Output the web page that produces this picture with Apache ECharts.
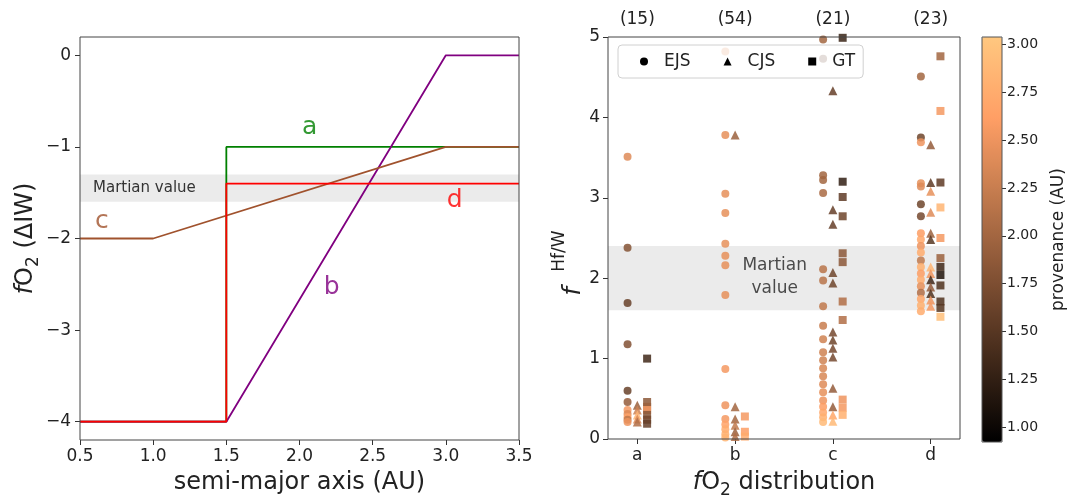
<!DOCTYPE html>
<html>
<head>
<meta charset="utf-8">
<script src="https://cdn.jsdelivr.net/npm/echarts@6/dist/echarts.min.js"></script>
<style>html,body{margin:0;padding:0;background:#fff}#c{width:1067px;height:500px}</style>
</head>
<body>
<div id="c"></div>
<script>
// ---------- Left panel data ----------
const axisTicksX = [0.5, 1.0, 1.5, 2.0, 2.5, 3.0, 3.5];
const fo2Ticks = [-4, -3, -2, -1, 0];
const lineA = [[0.5, -4], [1.5, -4], [1.5, -1], [3.5, -1]];
const lineB = [[0.5, -4], [1.5, -4], [3.0, 0], [3.5, 0]];
const lineC = [[0.5, -2], [1.0, -2], [3.0, -1], [3.5, -1]];
const lineD = [[0.5, -4], [1.5, -4], [1.5, -1.4], [3.5, -1.4]];
const martianBandLeft = [-1.6, -1.3];
const lineLabels = [['a', 2.07, -0.79], ['b', 2.22, -2.54], ['c', 0.65, -1.81], ['d', 3.06, -1.59]];

// ---------- Right panel data ----------
const categories = ['a', 'b', 'c', 'd'];
const counts = ['(15)', '(54)', '(21)', '(23)'];
const martianBandRight = [1.6, 2.4];
const provTicks = [1.00, 1.25, 1.50, 1.75, 2.00, 2.25, 2.50, 2.75, 3.00];
const provRange = [0.923, 3.038];
// [category index, f Hf/W, provenance (AU)]
const ejsPoints = [
  [0,3.51,2.40],[0,2.38,1.80],[0,1.69,1.62],[0,1.18,1.78],[0,0.60,1.62],[0,0.46,1.90],[0,0.36,2.55],[0,0.31,2.40],[0,0.27,2.65],[0,0.24,2.20],[0,0.21,2.50],
  [1,4.82,2.45],[1,3.78,2.45],[1,3.05,2.45],[1,2.81,2.45],[1,2.43,2.45],[1,2.28,2.45],[1,2.16,2.45],[1,1.79,2.45],[1,0.87,2.55],[1,0.42,2.50],[1,0.25,2.55],[1,0.18,2.65],[1,0.12,2.75],[1,0.06,2.80],[1,0.02,2.85],
  [2,4.97,2.00],[2,4.73,1.60],[2,3.28,2.00],[2,3.22,2.00],[2,3.06,2.05],[2,2.11,2.15],[2,1.97,2.15],[2,1.65,2.20],[2,1.41,2.25],[2,1.24,2.30],[2,1.08,2.30],[2,0.98,2.30],[2,0.88,2.35],[2,0.78,2.35],[2,0.68,2.40],[2,0.58,2.45],[2,0.48,2.50],[2,0.40,2.60],[2,0.33,2.70],[2,0.27,2.80],[2,0.21,2.90],
  [3,4.51,2.00],[3,3.75,1.65],[3,3.69,2.50],[3,3.18,2.45],[3,3.14,2.40],[3,2.92,1.65],[3,2.77,1.70],[3,2.56,2.60],[3,2.48,2.70],[3,2.40,2.50],[3,2.32,2.75],[3,2.22,2.20],[3,2.14,2.80],[3,2.06,2.60],[3,1.98,2.75],[3,1.90,2.45],[3,1.82,2.10],[3,1.74,2.70],[3,1.66,2.80],[3,1.59,2.75]
];
const cjsPoints = [
  [0,0.42,1.95],[0,0.36,2.30],[0,0.30,2.85],[0,0.25,2.40],[0,0.21,2.10],
  [1,3.78,1.95],[1,0.40,2.00],[1,0.25,2.00],[1,0.17,2.20],[1,0.09,1.95],[1,0.03,2.10],
  [2,4.33,1.60],[2,2.85,1.60],[2,2.67,1.60],[2,2.07,1.65],[2,1.94,1.65],[2,1.33,1.70],[2,1.23,1.65],[2,1.13,1.70],[2,1.02,1.70],[2,0.63,1.90],[2,0.40,1.90],[2,0.30,2.70],[2,0.22,2.90],
  [3,3.66,1.90],[3,3.19,1.55],[3,3.08,2.45],[3,2.82,2.40],[3,2.56,1.95],[3,2.48,1.50],[3,2.14,2.85],[3,2.06,2.50],[3,1.98,1.35],[3,1.89,1.90],[3,1.81,1.45],[3,1.73,2.50],[3,1.65,2.55]
];
const gtPoints = [
  [0,1.00,1.35],[0,0.46,1.85],[0,0.40,1.95],[0,0.36,2.55],[0,0.30,1.80],[0,0.24,1.70],[0,0.19,1.60],
  [1,0.28,2.55],[1,0.09,2.60],[1,0.03,2.75],
  [2,4.99,1.30],[2,3.20,1.25],[2,3.01,1.55],[2,2.77,1.65],[2,2.31,1.85],[2,2.20,1.85],[2,1.71,2.10],[2,1.48,2.10],[2,0.49,2.50],[2,0.39,2.55],[2,0.30,2.80],
  [3,4.76,2.00],[3,4.08,2.55],[3,3.19,1.55],[3,2.88,2.85],[3,2.50,2.55],[3,2.25,1.95],[3,2.14,1.35],[3,2.04,1.15],[3,1.91,1.45],[3,1.71,1.45],[3,1.63,1.50],[3,1.52,2.95]
];
const copper = ['#000000', '#402819', '#805033', '#BF784C', '#FF9F65', '#FFC77F'];

const FONT = 'DejaVu Sans';
const TXT = '#222';
const minus = v => String(v).replace('-', '\u2212');
const shift = (pts, d) => pts.map(p => [p[0] + d, p[1], p[2]]);

const chart = echarts.init(document.getElementById('c'), null, {renderer: 'canvas'});
const lineSeries = (data, color) => ({
  type: 'line', data: data, xAxisIndex: 0, yAxisIndex: 0, symbol: 'none',
  lineStyle: {color: color, width: 1.8}, itemStyle: {color: color}, silent: true, animation: false, z: 3
});
const lineColors = {a: '#008000', b: '#800080', c: '#A0522D', d: '#FF0000'};
const tick = {show: true, length: 5, inside: false, lineStyle: {color: '#333'}};
const noLine = {show: false, onZero: false};

const option = {
  animation: false,
  textStyle: {fontFamily: FONT},
  grid: [
    {left: 80, right: 548, top: 37, bottom: 60, show: true, borderColor: '#444', borderWidth: 1, backgroundColor: 'transparent', outerBoundsMode: 'none', z: 5},
    {left: 608, right: 107, top: 37, bottom: 61, show: true, borderColor: '#444', borderWidth: 1, backgroundColor: 'transparent', outerBoundsMode: 'none', z: 5},
    {left: 982, width: 20, top: 37, height: 405, show: true, borderColor: '#555', borderWidth: 1, backgroundColor: 'transparent', outerBoundsMode: 'none', z: 10}
  ],
  xAxis: [
    {type: 'value', gridIndex: 0, min: 0.5, max: 3.5, interval: 0.5,
     axisLine: noLine, splitLine: {show: false}, axisTick: tick,
     axisLabel: {fontSize: 17, color: TXT, margin: 8, formatter: v => v.toFixed(1), fontFamily: FONT},
     name: 'semi-major axis (AU)', nameLocation: 'middle', nameGap: 31,
     nameTextStyle: {fontSize: 24, color: TXT, fontFamily: FONT}},
    {type: 'value', gridIndex: 1, min: -0.3, max: 3.3,
     axisLine: noLine, splitLine: {show: false},
     axisTick: Object.assign({customValues: [0, 1, 2, 3]}, tick),
     axisLabel: {fontSize: 17, color: TXT, margin: 8, customValues: [0, 1, 2, 3], formatter: v => categories[Math.round(v)], fontFamily: FONT},
     name: '{it|f}O{sub|2} distribution', nameLocation: 'middle', nameGap: 28,
     nameTextStyle: {fontSize: 24, color: TXT, fontFamily: FONT,
       rich: {it: {fontSize: 24, fontStyle: 'italic', color: TXT, fontFamily: FONT, lineHeight: 32, verticalAlign: 'middle'},
              sub: {fontSize: 17, color: TXT, fontFamily: FONT, verticalAlign: 'bottom', lineHeight: 32}}}},
    {type: 'value', gridIndex: 1, min: -0.3, max: 3.3, position: 'top',
     axisLine: noLine, splitLine: {show: false}, axisTick: {show: false},
     axisLabel: {fontSize: 17, color: TXT, margin: 9, customValues: [0, 1, 2, 3], formatter: v => counts[Math.round(v)], fontFamily: FONT}},
    {type: 'value', gridIndex: 2, show: false, min: 0, max: 1}
  ],
  yAxis: [
    {type: 'value', gridIndex: 0, min: -4.2, max: 0.2,
     axisLine: noLine, splitLine: {show: false},
     axisTick: Object.assign({customValues: fo2Ticks}, tick),
     axisLabel: {fontSize: 17, color: TXT, margin: 9, customValues: fo2Ticks, formatter: v => minus(Math.round(v)), fontFamily: FONT},
     name: '{it|f}O{sub|2} (\u0394IW)', nameLocation: 'middle', nameGap: 35, nameRotate: 90,
     nameTextStyle: {fontSize: 24, color: TXT, fontFamily: FONT,
       rich: {it: {fontSize: 24, fontStyle: 'italic', color: TXT, fontFamily: FONT, lineHeight: 32, verticalAlign: 'middle'},
              sub: {fontSize: 17, color: TXT, fontFamily: FONT, verticalAlign: 'bottom', lineHeight: 32}}}},
    {type: 'value', gridIndex: 1, min: 0, max: 5, interval: 1,
     axisLine: noLine, splitLine: {show: false}, axisTick: tick,
     axisLabel: {fontSize: 17, color: TXT, margin: 8, fontFamily: FONT},
     name: '{it|f}  {sup|Hf/W}', nameLocation: 'middle', nameGap: 22, nameRotate: 90,
     nameTextStyle: {fontSize: 24, color: TXT, fontFamily: FONT, padding: [0, 50, 0, 0],
       rich: {it: {fontSize: 24, fontStyle: 'italic', color: TXT, fontFamily: FONT, lineHeight: 34, verticalAlign: 'bottom'},
              sup: {fontSize: 17, color: TXT, fontFamily: FONT, verticalAlign: 'top', lineHeight: 34}}}},
    {type: 'value', gridIndex: 2, min: provRange[0], max: provRange[1], position: 'right',
     axisLine: noLine, splitLine: {show: false},
     axisTick: {show: true, length: 4, inside: false, customValues: provTicks, lineStyle: {color: '#333'}},
     axisLabel: {fontSize: 14, color: TXT, margin: 5, customValues: provTicks, formatter: v => v.toFixed(2), fontFamily: FONT},
     name: 'provenance (AU)', nameLocation: 'middle', nameGap: 48, nameRotate: 90,
     nameTextStyle: {fontSize: 17, color: TXT, fontFamily: FONT}}
  ],
  visualMap: {
    type: 'continuous', min: provRange[0], max: provRange[1], dimension: 2, seriesIndex: [7, 8, 9],
    inRange: {color: copper}, orient: 'vertical', left: 982, top: 37, itemWidth: 20, itemHeight: 405,
    calculable: false, padding: 0, hoverLink: false, text: null, showLabel: false
  },
  legend: {
    left: 618, top: 45, orient: 'horizontal', itemWidth: 8, itemHeight: 8, itemGap: 33,
    padding: [8, 8, 8, 22], backgroundColor: 'rgba(255,255,255,0.8)', borderColor: '#d0d0d0',
    borderWidth: 1, borderRadius: 4, selectedMode: false,
    formatter: name => '{s|}' + name,
    textStyle: {fontSize: 17, color: TXT, fontFamily: FONT, rich: {s: {width: 11}}},
    data: [
      {name: 'EJS', icon: 'circle', itemStyle: {color: '#000', opacity: 1}},
      {name: 'CJS', icon: 'triangle', itemStyle: {color: '#000', opacity: 1}},
      {name: 'GT', icon: 'rect', itemStyle: {color: '#000', opacity: 1}}
    ]
  },
  series: [
    {type: 'line', xAxisIndex: 0, yAxisIndex: 0, data: [], symbol: 'none', silent: true, z: 1,
     markArea: {silent: true, itemStyle: {color: '#ebebeb'},
       label: {show: true, position: 'insideLeft', distance: 13, fontSize: 15, color: '#333', fontFamily: FONT},
       data: [[{yAxis: martianBandLeft[0], name: 'Martian value'}, {yAxis: martianBandLeft[1]}]]}},
    lineSeries(lineA, lineColors.a),
    lineSeries(lineB, lineColors.b),
    lineSeries(lineC, lineColors.c),
    lineSeries(lineD, lineColors.d),
    {type: 'scatter', xAxisIndex: 0, yAxisIndex: 0, symbolSize: 0, silent: true, z: 6,
     data: lineLabels.map(l => ({value: [l[1], l[2]], label: {show: true, position: 'inside', formatter: l[0], fontSize: 25, color: lineColors[l[0]], fontFamily: FONT}}))},
    {type: 'scatter', xAxisIndex: 1, yAxisIndex: 1, symbolSize: 0, silent: true, z: 1,
     data: [{value: [1.405, 2.02], label: {show: true, position: 'inside', formatter: 'Martian\nvalue', fontSize: 17, lineHeight: 23, align: 'center', color: TXT, fontFamily: FONT}}],
     markArea: {silent: true, itemStyle: {color: '#ebebeb'}, data: [[{yAxis: martianBandRight[0]}, {yAxis: martianBandRight[1]}]]}},
    {name: 'EJS', type: 'scatter', xAxisIndex: 1, yAxisIndex: 1, symbol: 'circle', symbolSize: 8, z: 3,
     itemStyle: {opacity: 0.85}, data: shift(ejsPoints, -0.1)},
    {name: 'CJS', type: 'scatter', xAxisIndex: 1, yAxisIndex: 1, symbol: 'triangle', symbolSize: 9, z: 3,
     itemStyle: {opacity: 0.85}, data: shift(cjsPoints, 0)},
    {name: 'GT', type: 'scatter', xAxisIndex: 1, yAxisIndex: 1, symbol: 'rect', symbolSize: 8, z: 3,
     itemStyle: {opacity: 0.85}, data: shift(gtPoints, 0.1)}
  ]
};
chart.setOption(option);
</script>
</body>
</html>
